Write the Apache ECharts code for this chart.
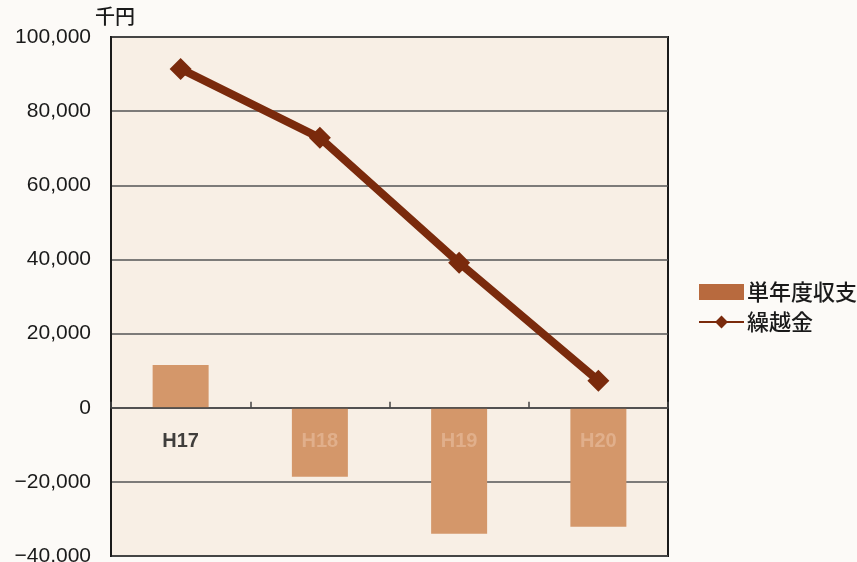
<!DOCTYPE html>
<html>
<head>
<meta charset="utf-8">
<script src="https://cdn.jsdelivr.net/npm/echarts@6/dist/echarts.min.js"></script>
<style>
  html, body { margin: 0; padding: 0; background: #fcfaf7; }
  #chart { width: 857px; height: 562px; }
</style>
</head>
<body>
<div id="chart"></div>
<script>
// Fiscal years
const categories = ['H17', 'H18', 'H19', 'H20'];
// 単年度収支 (thousand yen)
const annualBalance = [11500, -18600, -34000, -32100];
// 繰越金 (thousand yen)
const carryOver = [91400, 72800, 39100, 7300];
// Value axis ticks
const yTicks = [-40000, -20000, 0, 20000, 40000, 60000, 80000, 100000];

const fontFamily = '"Liberation Sans", Arial, "Noto Sans CJK JP", sans-serif';
const cjkFont = '"Noto Sans CJK JP", sans-serif';
const barColor = '#d4976a';
const lineColor = '#7a2a0c';

const chart = echarts.init(document.getElementById('chart'));

function fmt(v) {
  const s = Math.abs(v).toLocaleString('en-US');
  return v < 0 ? '\u2212' + s : s;
}

chart.setOption({
  backgroundColor: '#fcfaf7',
  animation: false,
  textStyle: { fontFamily },
  grid: {
    left: 111, right: 189, top: 37, bottom: 6,
    outerBoundsMode: 'none',
    containLabel: false,
    show: true, backgroundColor: '#f8efe5', borderColor: '#1a1a1a', borderWidth: 2
  },
  legend: {
    orient: 'vertical',
    left: 693, top: 276,
    itemGap: 8,
    itemWidth: 45, itemHeight: 16,
    textStyle: { fontSize: 22, color: '#1a1a1a', fontWeight: 500, fontFamily: cjkFont, padding: [0, 0, 0, -2] },
    data: [
      { name: '単年度収支', icon: 'rect', itemStyle: { color: '#b86a3e' } },
      { name: '繰越金' }
    ]
  },
  xAxis: {
    type: 'category',
    data: categories,
    z: 3,
    axisLine: { onZero: true, lineStyle: { color: '#444', width: 1.5 } },
    axisTick: { show: true, inside: true, length: 6, lineStyle: { color: '#444', width: 1.5 } },
    axisLabel: { show: false }
  },
  yAxis: {
    type: 'value',
    min: -40000, max: 100000, interval: 20000,
    name: '千円',
    nameGap: 1,
    nameTextStyle: { fontSize: 20, color: '#1a1a1a', fontWeight: 500, fontFamily: cjkFont, align: 'left', padding: [0, 0, 0, -16] },
    axisLine: { show: true, lineStyle: { color: '#1a1a1a', width: 2 } },
    axisTick: { show: false },
    axisLabel: {
      margin: 20,
      fontSize: 21, color: '#1a1a1a',
      formatter: v => yTicks.includes(v) ? fmt(v) : ''
    },
    splitLine: { show: true, lineStyle: { color: '#555', width: 1.5 } }
  },
  series: [
    {
      name: '単年度収支',
      type: 'bar',
      data: annualBalance,
      barWidth: 56,
      itemStyle: { color: barColor },
      z: 2
    },
    {
      name: '繰越金',
      type: 'line',
      data: carryOver,
      symbol: 'diamond',
      symbolSize: 22,
      lineStyle: { color: lineColor, width: 8 },
      itemStyle: { color: lineColor },
      z: 4
    },
    {
      // Year labels placed just under the zero line
      name: 'year',
      type: 'scatter',
      data: categories.map(() => 0),
      symbolSize: 0,
      silent: true,
      z: 5,
      label: {
        show: true,
        position: 'bottom',
        distance: 24,
        fontSize: 20,
        fontWeight: 'bold',
        fontFamily,
        formatter: p => p.dataIndex === 0 ? '{a|' + categories[p.dataIndex] + '}' : '{b|' + categories[p.dataIndex] + '}',
        rich: {
          a: { fontSize: 20, fontWeight: 'bold', color: '#111', fontFamily },
          b: { fontSize: 20, fontWeight: 'bold', color: '#e3b593', fontFamily }
        }
      }
    }
  ]
});
</script>
</body>
</html>
